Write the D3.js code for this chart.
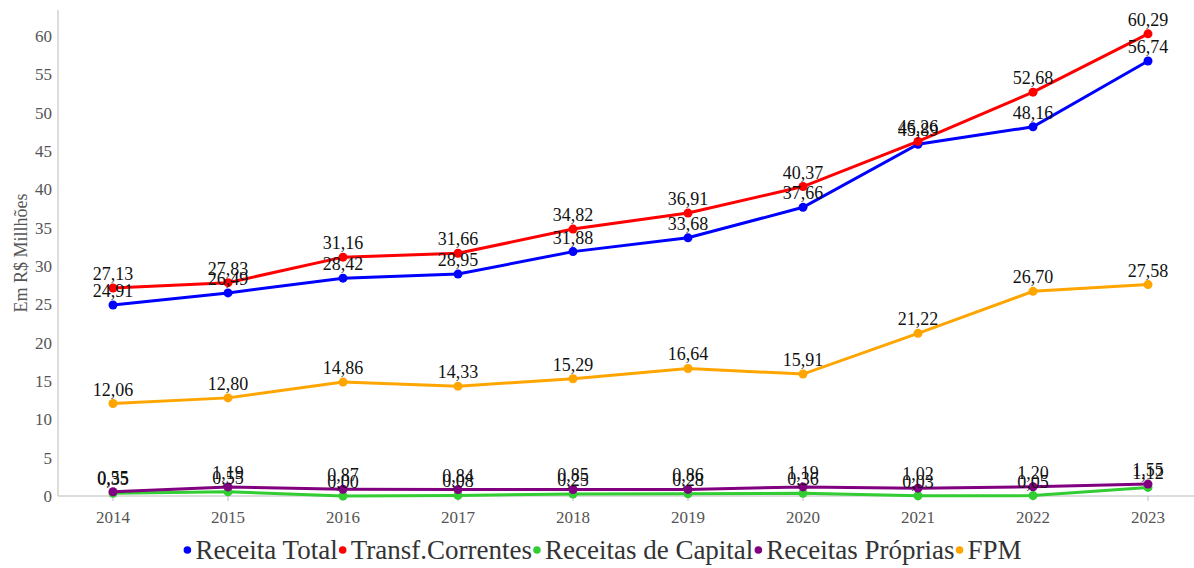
<!DOCTYPE html>
<html><head><meta charset="utf-8">
<script src="https://cdn.jsdelivr.net/npm/d3@7/dist/d3.min.js"></script>
<style>body{margin:0;background:#fff}svg{display:block}</style>
</head><body><svg id="c" width="1194" height="568"></svg>
<script>
const years = [2014,2015,2016,2017,2018,2019,2020,2021,2022,2023];
const receitaTotal = [24.91,26.49,28.42,28.95,31.88,33.68,37.66,45.89,48.16,56.74];
const transfCorrentes = [27.13,27.83,31.16,31.66,34.82,36.91,40.37,46.26,52.68,60.29];
const receitasCapital = [0.35,0.55,0.00,0.08,0.25,0.28,0.36,0.03,0.05,1.12];
const receitasProprias = [0.55,1.19,0.87,0.84,0.85,0.86,1.19,1.02,1.20,1.55];
const fpm = [12.06,12.80,14.86,14.33,15.29,16.64,15.91,21.22,26.70,27.58];
const yTicks = [0,5,10,15,20,25,30,35,40,45,50,55,60];
const seriesNames = ["Receita Total","Transf.Correntes","Receitas de Capital","Receitas Próprias","FPM"];
const seriesColors = ["#0000ff","#ff0000","#32cd32","#800080","#ffa500"];
const seriesValues = [receitaTotal,transfCorrentes,receitasCapital,receitasProprias,fpm];

const FF = "Liberation Serif";
const svg = d3.select("#c");
const x = d3.scalePoint().domain(years).range([113,1148]);
const y = d3.scaleLinear().domain([0,63.4]).range([496,10]);

// axes
svg.append("line").attr("x1",58).attr("x2",58).attr("y1",10).attr("y2",496).attr("stroke","#bbb");
svg.append("line").attr("x1",58).attr("x2",1194).attr("y1",496).attr("y2",496).attr("stroke","#bbb");
const gy = svg.append("g");
yTicks.forEach(t=>{
  gy.append("text").attr("x",52).attr("y",y(t)).attr("dy","0.35em").attr("text-anchor","end")
    .style("font-family",FF).style("font-size","17px").attr("fill","#555").text(t);
});
const gx = svg.append("g");
years.forEach(yr=>{
  gx.append("line").attr("x1",x(yr)).attr("x2",x(yr)).attr("y1",496).attr("y2",501).attr("stroke","#bbb");
  gx.append("text").attr("x",x(yr)).attr("y",523).attr("text-anchor","middle")
    .style("font-family",FF).style("font-size","17px").attr("fill","#555").text(yr);
});
svg.append("text").attr("transform","translate(27,253) rotate(-90)").attr("text-anchor","middle")
  .style("font-family",FF).style("font-size","18px").attr("fill","#555").text("Em R$ Millhões");

const line = d3.line().x((d,i)=>x(years[i])).y(d=>y(d));
seriesValues.forEach((vals,k)=>{
  const g = svg.append("g");
  g.append("path").attr("d",line(vals)).attr("fill","none").attr("stroke",seriesColors[k]).attr("stroke-width",3);
  vals.forEach((v,i)=>{
    g.append("circle").attr("cx",x(years[i])).attr("cy",y(v)).attr("r",4.5).attr("fill",seriesColors[k]);
  });
});
const fmt = v => v.toFixed(2).replace(".",",");
seriesValues.forEach((vals,k)=>{
  vals.forEach((v,i)=>{
    svg.append("text").attr("x",x(years[i])).attr("y",y(v)-8).attr("text-anchor","middle")
      .style("font-family",FF).style("font-size","18px").attr("fill","#111").text(fmt(v));
  });
});

// legend
const lg = svg.append("g");
let widths = [];
const tmp = lg.append("text").style("font-family",FF).style("font-size","27px");
seriesNames.forEach(n=>{ tmp.text(n); widths.push(tmp.node().getComputedTextLength()); });
tmp.remove();
const mw = 13;
const total = d3.sum(widths) + mw*seriesNames.length;
let cx = 1194/2 - total/2 + 5;
seriesNames.forEach((n,k)=>{
  lg.append("path").attr("d",d3.symbol(d3.symbolCircle,45)()).attr("transform",`translate(${cx+5},550)`).attr("fill",seriesColors[k]);
  lg.append("text").attr("x",cx+mw).attr("y",550).attr("dy","0.35em")
    .style("font-family",FF).style("font-size","27px").attr("fill","#333").text(n);
  cx += mw + widths[k];
});
</script></body></html>
